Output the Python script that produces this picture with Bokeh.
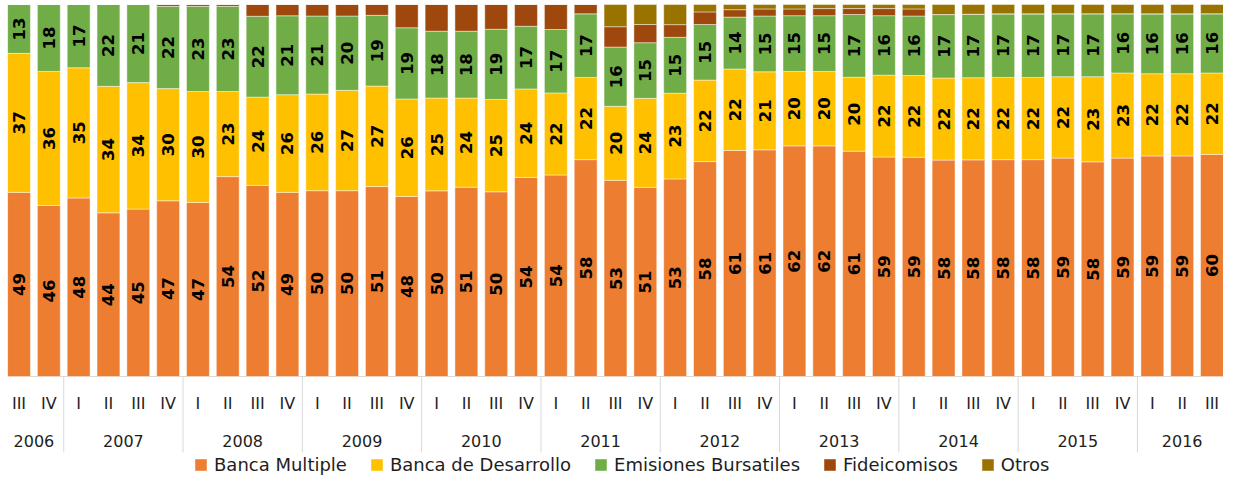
import numpy as np
from bokeh.plotting import figure
from bokeh.models import FactorRange, Range1d, ColumnDataSource, Legend, LegendItem, Span
from bokeh.core.properties import value
from bokeh.embed import file_html
from bokeh.resources import INLINE

# ---------------- data ----------------
years = ["2006", "2007", "2008", "2009", "2010", "2011", "2012", "2013", "2014", "2015", "2016"]
quarters_by_year = [["III", "IV"]] + [["I", "II", "III", "IV"]] * 9 + [["I", "II", "III"]]

banca_multiple = [49, 46, 48, 44, 45, 47, 47, 54, 52, 49, 50, 50, 51, 48, 50, 51, 50, 54, 54, 58, 53,
                  51, 53, 58, 61, 61, 62, 62, 61, 59, 59, 58, 58, 58, 58, 59, 58, 59, 59, 59, 60]
banca_desarrollo = [37, 36, 35, 34, 34, 30, 30, 23, 24, 26, 26, 27, 27, 26, 25, 24, 25, 24, 22, 22, 20,
                    24, 23, 22, 22, 21, 20, 20, 20, 22, 22, 22, 22, 22, 22, 22, 23, 23, 22, 22, 22]
emisiones_bursatiles = [13, 18, 17, 22, 21, 22, 23, 23, 22, 21, 21, 20, 19, 19, 18, 18, 19, 17, 17, 17, 16,
                        15, 15, 15, 14, 15, 15, 15, 17, 16, 16, 17, 17, 17, 17, 17, 17, 16, 16, 16, 16]
fideicomisos = [0, 0, 0, 0, 0, 0.5, 0.5, 0.5, 3.2, 3.0, 3.1, 3.1, 2.9, 6.2, 7.2, 7.2, 6.7, 5.9, 6.7, 2.5, 5.5,
                4.9, 3.4, 3.4, 2.0, 1.9, 1.8, 1.9, 1.6, 1.9, 1.9, 0, 0, 0, 0, 0, 0, 0, 0, 0, 0]
otros = [0, 0, 0, 0, 0, 0, 0, 0, 0, 0, 0, 0, 0, 0, 0, 0, 0, 0, 0, 0, 6.0,
         5.4, 5.4, 2.0, 1.4, 1.2, 1.2, 1.1, 1.1, 1.1, 1.2, 2.7, 2.6, 2.5, 2.5, 2.5, 2.5, 2.5, 2.5, 2.5, 2.5]

series_names = ["Banca Multiple", "Banca de Desarrollo", "Emisiones Bursatiles", "Fideicomisos", "Otros"]
colors = ["#ED7D31", "#FFC000", "#70AD47", "#9E480E", "#997300"]
labelled_series = 3  # first three series carry value labels

# ---------------- layout constants (pixels) ----------------
W, H = 1223, 475
LEFT_BORDER = 7
BAR_TOP_PX = 4        # canvas y of the 100% line
BAR_BOTTOM_PX = 376   # canvas y of the 0% line
PX_PER_PCT = (BAR_BOTTOM_PX - BAR_TOP_PX) / 100.0
Y_END = 100 + BAR_TOP_PX / PX_PER_PCT
Y_START = Y_END - H / PX_PER_PCT
Q_LABEL_Y = -(403 - BAR_BOTTOM_PX) / PX_PER_PCT
YEAR_LABEL_Y = -(440 - BAR_BOTTOM_PX) / PX_PER_PCT
SEP_BOTTOM = -(452 - BAR_BOTTOM_PX) / PX_PER_PCT
TEXT_COLOR = "#1e1e1e"

factors = [(y, q) for y, qs in zip(years, quarters_by_year) for q in qs]
raw = np.array([banca_multiple, banca_desarrollo, emisiones_bursatiles, fideicomisos, otros], dtype=float)
pct = raw / raw.sum(axis=0) * 100.0  # 100% stacked

keys = ["s%d" % i for i in range(len(series_names))]
data = {"x": factors}
for k, row in zip(keys, pct):
    data[k] = row
source = ColumnDataSource(data)

x_range = FactorRange(*factors, factor_padding=0, subgroup_padding=0, group_padding=0,
                      range_padding=-0.1144, range_padding_units="absolute")

p = figure(width=W, height=H, x_range=x_range, y_range=Range1d(Y_START, Y_END),
           output_backend="svg", toolbar_location=None, min_border=0, min_border_left=LEFT_BORDER,
           outline_line_color=None, background_fill_color="white", border_fill_color="white")
p.axis.visible = False
p.grid.visible = False

# axis base line
p.add_layout(Span(location=0, dimension="width", line_color="#D9D9D9", line_width=1, level="underlay"))

renderers = p.vbar_stack(keys, x="x", width=0.767, fill_color=colors, line_color="white",
                         line_alpha=0.45, line_width=1, source=source)

# value labels
lx, ly, lt = [], [], []
cum = np.zeros(pct.shape[1])
for s in range(labelled_series):
    mids = cum + pct[s] / 2
    for i, f in enumerate(factors):
        lx.append(f)
        ly.append(mids[i])
        lt.append(str(int(raw[s][i])))
    cum = cum + pct[s]
p.text(x=lx, y=ly, text=lt, angle=np.pi / 2, text_align="center", text_baseline="middle",
       text_font=value("DejaVu Sans"), text_font_style="bold", text_font_size="16.5px",
       text_color="black")

# quarter labels
p.text(x=factors, y=[Q_LABEL_Y] * len(factors), text=[q for _, q in factors],
       text_align="center", text_baseline="middle", text_font=value("DejaVu Sans"),
       text_font_size="16px", text_color=TEXT_COLOR)
# year labels
p.text(x=years, y=[YEAR_LABEL_Y] * len(years), text=years,
       text_align="center", text_baseline="middle", text_font=value("DejaVu Sans"),
       text_font_size="16px", text_color=TEXT_COLOR)
# group separators
sep_x = [(y, qs[0], -0.5) for y, qs in zip(years, quarters_by_year)][1:]
p.segment(x0=sep_x, y0=[0] * len(sep_x), x1=sep_x, y1=[SEP_BOTTOM] * len(sep_x),
          line_color="#D9D9D9", line_width=1)

legend = Legend(items=[LegendItem(label=n, renderers=[r]) for n, r in zip(series_names, renderers)],
                orientation="horizontal", location=(186, 0), padding=0, margin=0,
                spacing=22, label_standoff=6, glyph_width=15, glyph_height=15,
                label_text_font="DejaVu Sans", label_text_font_size="18px",
                label_text_color=TEXT_COLOR, border_line_alpha=0, background_fill_alpha=0)
p.add_layout(legend)

open("out.html", "w").write(file_html(p, INLINE))
